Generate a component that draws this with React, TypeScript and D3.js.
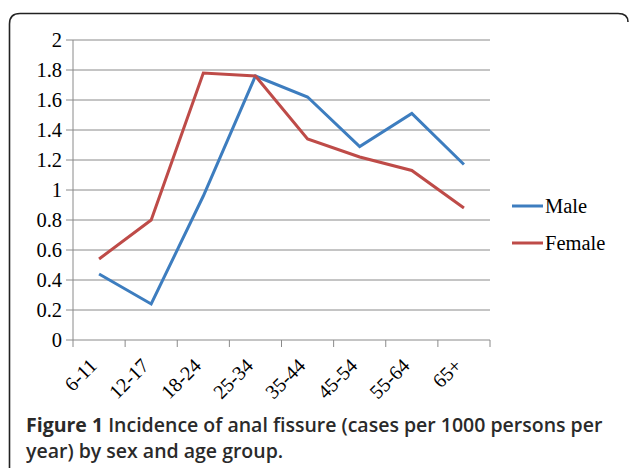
import { useEffect, useRef } from "react";
import * as d3 from "d3";

const ageGroups = ["6-11", "12-17", "18-24", "25-34", "35-44", "45-54", "55-64", "65+"];
const maleValues = [0.44, 0.24, 0.96, 1.76, 1.62, 1.29, 1.51, 1.17];
const femaleValues = [0.54, 0.8, 1.78, 1.76, 1.34, 1.22, 1.13, 0.88];
const yTicks = [0, 0.2, 0.4, 0.6, 0.8, 1, 1.2, 1.4, 1.6, 1.8, 2];
const seriesNames = ["Male", "Female"];
const seriesColors = ["#3d7dbf", "#be4b48"];

const SERIF = "'Liberation Serif', 'Times New Roman', 'DejaVu Serif', serif";

const App = () => {
  const svgRef = useRef<SVGSVGElement | null>(null);

  useEffect(() => {
    const w = 629;
    const h = 468;
    const svg = d3.select(svgRef.current);
    svg.selectAll("*").remove();

    // outer frame with rounded top corners
    svg
      .append("path")
      .attr("d", "M9.5,480 L9.5,24 Q9.5,13.5 20,13.5 L618,13.5 Q628,13.5 628,22")
      .attr("fill", "none")
      .attr("stroke", "#222")
      .attr("stroke-width", 1.6);

    const x = d3.scaleBand().domain(ageGroups).range([73, 490]);
    const y = d3.scaleLinear().domain([0, 2]).range([340, 40]);

    // gridlines
    svg
      .append("g")
      .selectAll("line")
      .data(yTicks)
      .join("line")
      .attr("x1", 66)
      .attr("x2", 490)
      .attr("y1", (d) => y(d))
      .attr("y2", (d) => y(d))
      .attr("stroke", "#8a8a8a")
      .attr("stroke-width", 1);

    // y axis line
    svg
      .append("line")
      .attr("x1", 73)
      .attr("x2", 73)
      .attr("y1", 40)
      .attr("y2", 340)
      .attr("stroke", "#8a8a8a");

    // x ticks
    const xEdges = ageGroups.map((g) => x(g) as number).concat([490]);
    svg
      .append("g")
      .selectAll("line")
      .data(xEdges)
      .join("line")
      .attr("x1", (d) => d)
      .attr("x2", (d) => d)
      .attr("y1", 340)
      .attr("y2", 347)
      .attr("stroke", "#8a8a8a");

    // y labels
    svg
      .append("g")
      .selectAll("text")
      .data(yTicks)
      .join("text")
      .attr("x", 62)
      .attr("y", (d) => y(d))
      .attr("dy", "0.35em")
      .attr("text-anchor", "end")
      .style("font-family", SERIF)
      .attr("font-size", 20.5)
      .attr("fill", "#000")
      .text((d) => String(d));

    // x labels rotated
    svg
      .append("g")
      .selectAll("text")
      .data(ageGroups)
      .join("text")
      .attr(
        "transform",
        (d) => `translate(${(x(d) as number) + x.bandwidth() / 2 - 1},${367}) rotate(-45)`
      )
      .attr("text-anchor", "end")
      .style("font-family", SERIF)
      .attr("font-size", 20)
      .attr("fill", "#000")
      .text((d) => d);

    const line = d3
      .line<number>()
      .x((d, i) => (x(ageGroups[i]) as number) + x.bandwidth() / 2)
      .y((d) => y(d));

    [maleValues, femaleValues].forEach((vals, i) => {
      svg
        .append("path")
        .attr("d", line(vals))
        .attr("fill", "none")
        .attr("stroke", seriesColors[i])
        .attr("stroke-width", 3);
    });

    // legend
    const legend = svg.append("g");
    seriesNames.forEach((name, i) => {
      const ly = 206 + i * 37;
      legend
        .append("line")
        .attr("x1", 512)
        .attr("x2", 543)
        .attr("y1", ly)
        .attr("y2", ly)
        .attr("stroke", seriesColors[i])
        .attr("stroke-width", 3);
      legend
        .append("text")
        .attr("x", 545)
        .attr("y", ly + 7)
        .style("font-family", SERIF)
        .attr("font-size", 20.5)
        .attr("fill", "#000")
        .text(name);
    });

    // caption
    const cap = svg
      .append("text")
      .style("font-family", "'Open Sans', sans-serif")
      .attr("font-size", 19.5)
      .attr("fill", "#2a2a2a");
    const l1 = cap.append("tspan").attr("x", 26).attr("y", 432);
    l1.append("tspan").attr("font-weight", 700).text("Figure 1 ");
    l1.append("tspan")
      .attr("font-weight", 600)
      .text("Incidence of anal fissure (cases per 1000 persons per");
    cap
      .append("tspan")
      .attr("x", 26)
      .attr("y", 458)
      .attr("font-weight", 600)
      .text("year) by sex and age group.");

    svg.attr("width", w).attr("height", h);
  }, []);

  return (
    <svg
      ref={svgRef}
      style={{ position: "absolute", left: 0, top: 0, background: "#fff" }}
    ></svg>
  );
};

export default App;
